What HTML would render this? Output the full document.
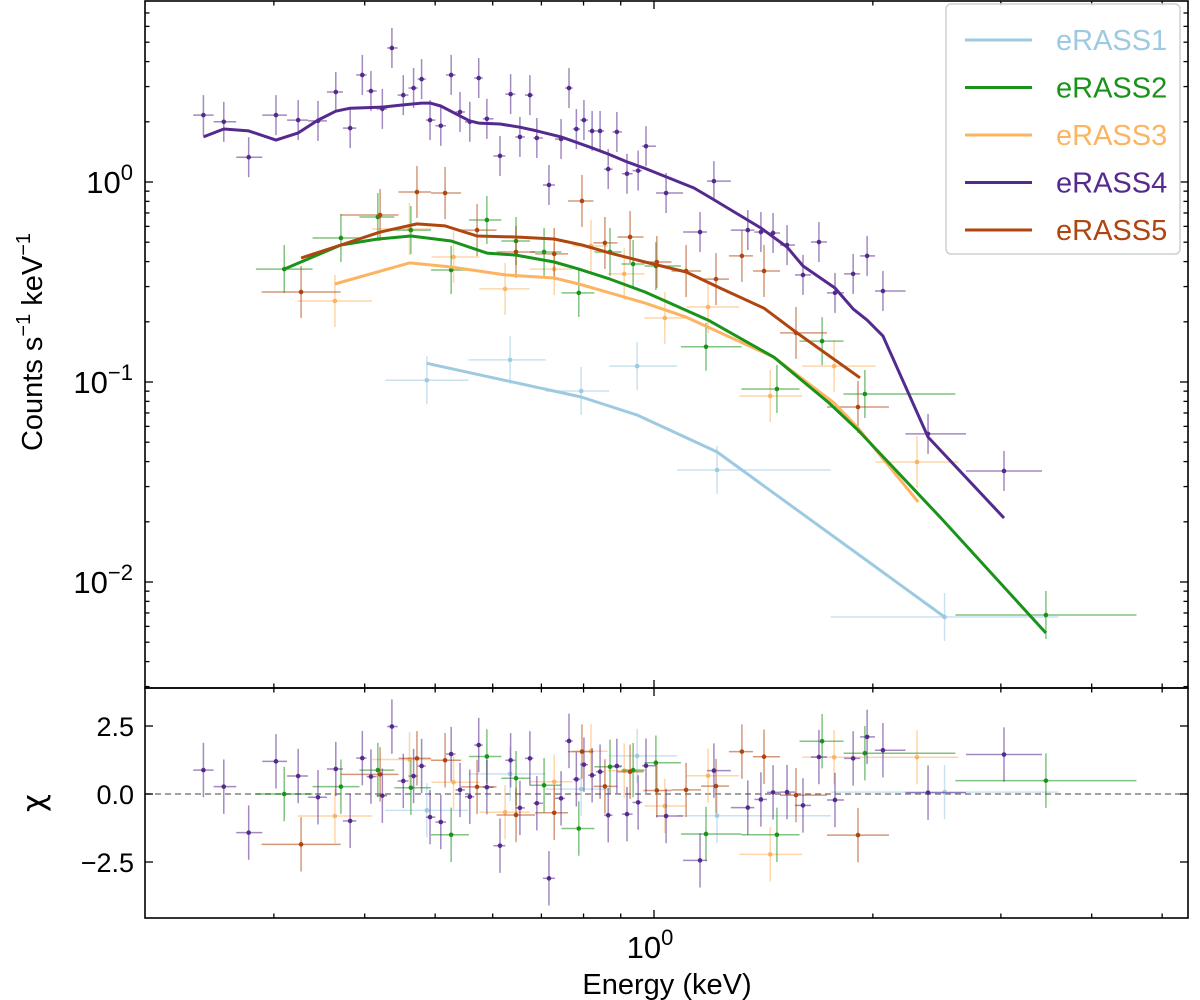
<!DOCTYPE html>
<html><head><meta charset="utf-8"><style>
html,body{margin:0;padding:0;background:#fff;}
svg{display:block;font-family:"Liberation Sans","DejaVu Sans",sans-serif;}
</style></head><body>
<svg id="chart" width="1200" height="1000" viewBox="0 0 1200 1000" xmlns="http://www.w3.org/2000/svg">
<rect width="1200" height="1000" fill="#fff"/>
<g id="marks"></g>
<g id="axes"></g>
<g id="legend"></g>
</svg>
<script>
// ---- data ----
const e4E=[0.240,0.256,0.277,0.302,0.324,0.345,0.365,0.382,0.397,0.408,0.423,0.436,0.452,0.467,0.479,0.492,0.509,0.526,0.541,0.558,0.574,0.589,0.614,0.635,0.654,0.675,0.690,0.717,0.745,0.764,0.782,0.801,0.822,0.843,0.865,0.889,0.918,0.951,0.975,1.039,1.157,1.209,1.346,1.403,1.458,1.524,1.603,1.686,1.774,1.879,1.964,2.065,2.382,3.03];
const e4C=[2.16,2.00,1.33,2.16,2.04,2.02,2.82,1.86,3.43,2.85,2.32,4.68,2.72,2.95,3.27,2.04,1.91,3.43,2.24,2.00,3.31,2.07,1.35,2.75,1.68,2.72,1.66,0.966,1.64,2.95,1.84,2.04,1.80,1.80,1.16,1.78,1.10,1.14,1.51,0.881,0.562,1.01,0.575,0.562,0.556,0.484,0.343,0.501,0.279,0.347,0.427,0.285,0.055,0.0359];
const e4R=[0.88,0.27,-1.42,1.20,0.66,-0.12,0.92,-0.99,1.32,0.64,-0.06,2.48,0.48,0.66,1.03,-0.85,-1.03,1.47,0.15,-0.10,1.80,0.25,-1.90,1.24,-0.51,1.31,-0.34,-3.10,-0.16,1.95,0.54,1.08,0.69,0.82,-0.78,1.03,-0.74,-0.31,1.04,-0.81,-2.44,0.86,-0.50,-0.20,0.06,0.07,-0.42,1.36,-0.22,1.31,2.10,1.61,0.05,1.45];
const m4E=[0.240,0.256,0.277,0.302,0.324,0.345,0.365,0.382,0.423,0.452,0.479,0.492,0.509,0.541,0.558,0.574,0.614,0.654,0.690,0.745,0.782,0.822,0.865,0.918,0.972,1.135,1.198,1.403,1.524,1.603,1.774,1.879,1.964,2.065,2.382,3.03];
const m4C=[1.68,1.84,1.80,1.62,1.76,2.04,2.26,2.34,2.37,2.43,2.48,2.48,2.40,2.14,2.02,1.97,1.95,1.88,1.80,1.68,1.58,1.48,1.38,1.26,1.17,0.933,0.832,0.589,0.473,0.380,0.295,0.232,0.204,0.170,0.0531,0.0209];

const e2E=[0.310,0.371,0.417,0.463,0.526,0.589,0.646,0.706,0.788,0.870,0.936,1.006,1.179,1.476,1.703,1.950,3.46];
const e2C=[0.367,0.525,0.668,0.575,0.363,0.646,0.507,0.447,0.279,0.447,0.389,0.380,0.150,0.0923,0.160,0.0871,0.00684];
const e2R=[0,0.27,0.88,0.23,-1.50,1.38,0.58,0.32,-1.27,1.0,0.88,1.15,-1.47,-1.50,1.94,1.50,0.49];
const m2E=[0.310,0.371,0.417,0.463,0.526,0.589,0.646,0.729,0.788,0.870,0.972,1.187,1.462,1.741,1.908,2.497,3.46];
const m2C=[0.367,0.484,0.519,0.537,0.507,0.441,0.431,0.398,0.367,0.327,0.282,0.204,0.133,0.0785,0.0575,0.0204,0.00556];

const e3E=[0.364,0.461,0.530,0.624,0.729,0.819,0.910,1.035,1.187,1.445,1.769,2.30];
const e3C=[0.254,0.582,0.422,0.292,0.367,0.479,0.347,0.209,0.237,0.0851,0.120,0.0398];
const e3R=[-0.81,1.27,0.43,-0.67,0.45,1.57,0.86,-0.44,0.67,-2.22,1.35,1.35];
const m3E=[0.364,0.461,0.526,0.624,0.729,0.788,0.870,0.972,1.107,1.462,1.769,1.908,2.31];
const m3C=[0.309,0.394,0.376,0.343,0.331,0.309,0.279,0.248,0.211,0.133,0.0785,0.0589,0.0251];

const e5E=[0.327,0.420,0.472,0.516,0.571,0.646,0.729,0.796,0.856,0.927,1.009,1.107,1.217,1.321,1.417,1.568,1.908];
const e5C=[0.282,0.684,0.891,0.881,0.575,0.447,0.437,0.804,0.496,0.531,0.398,0.359,0.327,0.427,0.359,0.176,0.075];
const e5R=[-1.85,0.72,1.31,1.24,0.26,-0.77,-0.69,1.56,0.28,0.82,0.13,0.15,0.29,1.56,1.37,-0.04,-1.51];
const m5E=[0.327,0.371,0.420,0.472,0.516,0.571,0.646,0.729,0.796,0.870,0.972,1.107,1.240,1.417,1.573,1.920];
const m5C=[0.417,0.484,0.562,0.617,0.603,0.537,0.531,0.519,0.484,0.441,0.398,0.355,0.292,0.234,0.176,0.105];

const e1E=[0.487,0.634,0.794,0.948,1.221,2.51];
const e1C=[0.102,0.129,0.0902,0.120,0.0363,0.00668];
const e1R=[-0.60,0.74,0.18,1.40,-0.80,0.07];
const m1E=[0.487,0.794,0.948,1.221,2.51];
const m1C=[0.124,0.0841,0.0684,0.0447,0.00668];

const legendLabels=["eRASS1","eRASS2","eRASS3","eRASS4","eRASS5"];
const xMinorTicks=[0.3,0.4,0.5,0.6,0.7,0.8,0.9,2,3,4,5];
const yTickVals=[1,0.1,0.01];
const yTickExp=["0","\u22121","\u22122"];
const rTickVals=[2.5,0,-2.5];
const rTickLabels=["2.5","0.0","\u22122.5"];

// ---- layout ----
const L=145,R=1188,T=1,MB=688,RB=918;
const xS=e=>654+727*Math.log10(e);
const yS=c=>182-200*Math.log10(c);
const rS=v=>794-27.2*v;
const NS="http://www.w3.org/2000/svg";
function mk(tag,attrs,parent){const el=document.createElementNS(NS,tag);for(const k in attrs)el.setAttribute(k,attrs[k]);parent.appendChild(el);return el;}
const marks=document.getElementById('marks');
const axes=document.getElementById('axes');
const legend=document.getElementById('legend');

const series=[
 {name:"erass1",col:"#9ecae1",E:e1E,C:e1C,Rs:e1R,mE:m1E,mC:m1C,dex:0.12},
 {name:"erass3",col:"#fdb462",E:e3E,C:e3C,Rs:e3R,mE:m3E,mC:m3C,dex:0.13},
 {name:"erass2",col:"#1a931a",E:e2E,C:e2C,Rs:e2R,mE:m2E,mC:m2C,dex:0.12},
 {name:"erass5",col:"#b0460f",E:e5E,C:e5C,Rs:e5R,mE:m5E,mC:m5C,dex:0.13},
 {name:"erass4",col:"#552a8e",E:e4E,C:e4C,Rs:e4R,mE:m4E,mC:m4C,dex:0.10}
];
const defs=mk('defs',{},marks);
const cp1=mk('clipPath',{id:'cpMain'},defs);mk('rect',{x:L,y:T,width:R-L,height:MB-T},cp1);
const cp2=mk('clipPath',{id:'cpRes'},defs);mk('rect',{x:L,y:MB,width:R-L,height:RB-MB},cp2);
const gMain=mk('g',{'clip-path':'url(#cpMain)'},marks);
const gRes=mk('g',{'clip-path':'url(#cpRes)'},marks);
const zl=mk('line',{x1:L,x2:R,y1:rS(0),y2:rS(0),stroke:'#808080','stroke-width':1.6,'stroke-dasharray':'6,4'},gRes);



function halfW(E,i){
  const lg=E.map(v=>Math.log10(v));
  let lo,hi;
  if(i>0) lo=(lg[i]-lg[i-1])/2; if(i<lg.length-1) hi=(lg[i+1]-lg[i])/2;
  if(lo===undefined) lo=hi; if(hi===undefined) hi=lo;
  return [Math.pow(10,lg[i]-lo),Math.pow(10,lg[i]+hi)];
}
series.forEach(s=>{
  const g=mk('g',{},gMain);
  
  
  const gr=mk('g',{},gRes);
  
  
  s.E.forEach((e,i)=>{
    const [elo,ehi]=halfW(s.E,i);
    const x=xS(e),y=yS(s.C[i]);
    const dy=200*s.dex;
    mk('line',{x1:xS(elo),x2:xS(ehi),y1:y,y2:y,stroke:s.col,'stroke-width':1.5,'stroke-opacity':0.55},g);
    mk('line',{x1:x,x2:x,y1:y-dy,y2:y+dy,stroke:s.col,'stroke-width':1.5,'stroke-opacity':0.55},g);
    const p=mk('circle',{cx:x,cy:y,r:2.3,fill:s.col},g);
    
    
    const ry=rS(s.Rs[i]);
    mk('line',{x1:xS(elo),x2:xS(ehi),y1:ry,y2:ry,stroke:s.col,'stroke-width':1.5,'stroke-opacity':0.55},gr);
    mk('line',{x1:x,x2:x,y1:ry-27.2,y2:ry+27.2,stroke:s.col,'stroke-width':1.5,'stroke-opacity':0.55},gr);
    const rp=mk('circle',{cx:x,cy:ry,r:2.3,fill:s.col},gr);
    
    
  });
});
series.forEach(s=>{
  const d=s.mE.map((e,i)=>(i?'L':'M')+xS(e).toFixed(1)+','+yS(s.mC[i]).toFixed(1)).join(' ');
  const pl=mk('path',{d:d,fill:'none',stroke:s.col,'stroke-width':3,'stroke-linejoin':'round'},gMain);
  
  
});

const f1=mk('rect',{x:L,y:T,width:R-L,height:MB-T,fill:'none',stroke:'#000','stroke-width':1.6},axes);

const f2=mk('rect',{x:L,y:MB,width:R-L,height:RB-MB,fill:'none',stroke:'#000','stroke-width':1.6},axes);


function tick(x1,y1,x2,y2){mk('line',{x1:x1,y1:y1,x2:x2,y2:y2,stroke:'#000','stroke-width':1.3},axes);}
[[T,1],[MB,-1],[MB,1],[RB,-1]].forEach(([yb,dir])=>{
  tick(xS(1),yb,xS(1),yb+dir*8);
  xMinorTicks.forEach(v=>tick(xS(v),yb,xS(v),yb+dir*4.5));
});
const xl=mk('text',{x:xS(1)-4,y:958,'font-size':31,'text-anchor':'middle',fill:'#000'},axes);

xl.innerHTML='10<tspan dy="-13" font-size="22">0</tspan>';
yTickVals.forEach((v,i)=>{
  tick(L,yS(v),L+8,yS(v));tick(R,yS(v),R-8,yS(v));
  const t=mk('text',{x:133,y:yS(v)+11,'font-size':31,'text-anchor':'end',fill:'#000'},axes);
  
  t.innerHTML='10<tspan dy="-13" font-size="22">'+yTickExp[i]+'</tspan>';
});
for(let dec=-3;dec<=0;dec++){for(let m=2;m<=9;m++){const v=m*Math.pow(10,dec);const y=yS(v);if(y>T+1&&y<MB-1){tick(L,y,L+4.5,y);tick(R,y,R-4.5,y);}}}
rTickVals.forEach((v,i)=>{
  tick(L,rS(v),L+8,rS(v));tick(R,rS(v),R-8,rS(v));
  const t=mk('text',{x:134,y:rS(v)+10,'font-size':27,'text-anchor':'end',fill:'#000'},axes);
  
  t.textContent=rTickLabels[i];
});
const xt=mk('text',{x:667,y:994,'font-size':29,'text-anchor':'middle',fill:'#000'},axes);

xt.textContent='Energy (keV)';
const yt=mk('text',{x:0,y:0,'font-size':29,'text-anchor':'middle',fill:'#000',transform:'translate(42,342) rotate(-90)'},axes);

yt.innerHTML='Counts s<tspan dy="-12" font-size="20">\u22121</tspan><tspan dy="12"> keV</tspan><tspan dy="-12" font-size="20">\u22121</tspan>';
const rt=mk('text',{x:0,y:0,'font-size':31,'text-anchor':'middle',fill:'#000',transform:'translate(44,803) rotate(-90)','font-family':'DejaVu Sans, sans-serif'},axes);

rt.textContent='\u03C7';

const lb=mk('rect',{x:946,y:4,width:234,height:250,rx:5,fill:'#fff','fill-opacity':0.85,stroke:'#d0d0d0','stroke-width':1.5},legend);

const legCols=["#9ecae1","#1a931a","#fdb462","#552a8e","#b0460f"];
legendLabels.forEach((lab,i)=>{
  const y=40+i*47.5;
  const g=mk('g',{},legend);
  
  
  mk('line',{x1:965,x2:1032,y1:y,y2:y,stroke:legCols[i],'stroke-width':3},g);
  const t=mk('text',{x:1056,y:y+10,'font-size':29,fill:legCols[i]},g);
  t.textContent=lab;
});
</script>
</body></html>
